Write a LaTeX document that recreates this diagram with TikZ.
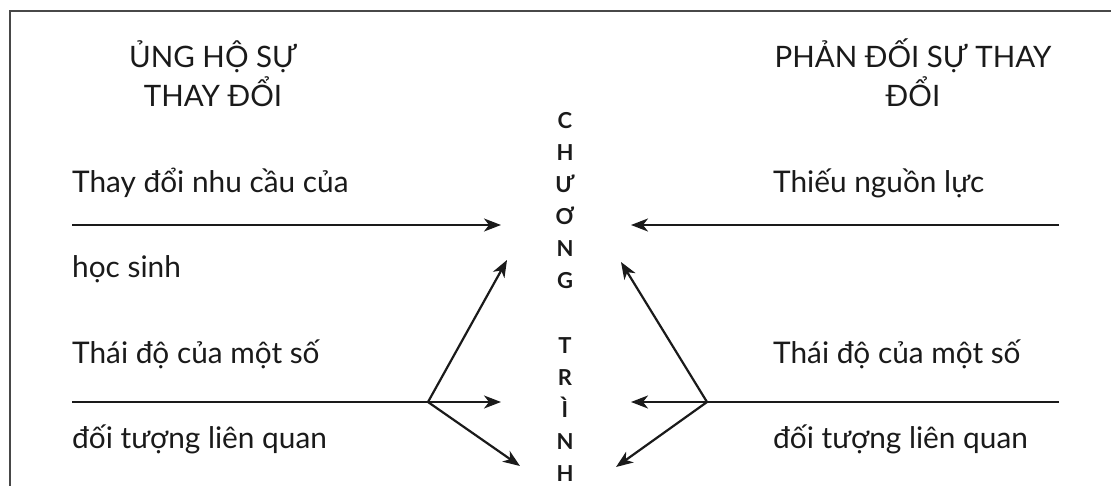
\documentclass[tikz,border=0pt]{standalone}
\usepackage{fontspec}
\setmainfont{Lato}
\usetikzlibrary{arrows.meta}
\definecolor{ink}{HTML}{1A1A1A}
\begin{document}
\begin{tikzpicture}[x=1pt,y=-1pt,
  lbl/.style={inner sep=0pt,anchor=base west,text=ink,font=\fontsize{29.8}{34}\selectfont},
  head/.style={inner sep=0pt,anchor=base,text=ink,font=\fontsize{29.5}{34}\selectfont},
  letter/.style={inner sep=0pt,anchor=base,text=ink,font=\bfseries\fontsize{22}{24}\selectfont},
  conn/.style={draw=ink,line width=2.2pt,-{Stealth[length=17pt,width=13pt,inset=5pt]}},
  plain/.style={draw=ink,line width=2.2pt},
  frame/.style={draw=ink!80,line width=1.5pt}]
\useasboundingbox (0,0) rectangle (1111,486);
% frame
\coordinate (fA) at (10,486);
\coordinate (fB) at (10,11);
\coordinate (fC) at (1111,11);
\draw[frame] (fA) -- (fB) -- (fC);
% headers
\node[head] (h1a) at (213,68) {ỦNG HỘ SỰ};
\node[head] (h1b) at (213,107) {THAY ĐỔI};
\node[head] (h2a) at (913,68) {PHẢN ĐỐI SỰ THAY};
\node[head] (h2b) at (913,107) {ĐỔI};
% left labels
\node[lbl] (l1) at (72,193) {Thay đổi nhu cầu của};
\node[lbl] (l2) at (72,278) {học sinh};
\node[lbl] (l3) at (72,363) {Thái độ của một số};
\node[lbl] (l4) at (72,448) {đối tượng liên quan};
% right labels
\node[lbl] (r1) at (773,193) {Thiếu nguồn lực};
\node[lbl] (r3) at (773,363) {Thái độ của một số};
\node[lbl] (r4) at (773,448) {đối tượng liên quan};
% center column
\foreach \t/\y/\n in {C/129/c1,H/161/c2,Ư/193/c3,Ơ/225/c4,N/257/c5,G/289/c6,T/353/c7,R/385/c8,Ì/417/c9,N/449/c10,H/481/c11}
  \node[letter] (\n) at (565,\y) {\t};
% connector coordinates
\coordinate (L1s) at (72,225);
\coordinate (L1e) at (501,225);
\coordinate (R1s) at (1059,225);
\coordinate (R1e) at (631,225);
\coordinate (L2s) at (72,402);
\coordinate (LB) at (428,402);
\coordinate (L2e) at (501,402);
\coordinate (LUe) at (507,260);
\coordinate (LDe) at (520,466);
\coordinate (R2s) at (1059,402);
\coordinate (RB) at (707,402);
\coordinate (R2e) at (631,402);
\coordinate (RUe) at (621,262);
\coordinate (RDe) at (616,467);
% connectors
\draw[conn] (L1s) -- (L1e);
\draw[conn] (R1s) -- (R1e);
\draw[plain] (L2s) -- (LB);
\draw[conn] (LB) -- (L2e);
\draw[conn] (LB) -- (LUe);
\draw[conn] (LB) -- (LDe);
\draw[plain] (R2s) -- (RB);
\draw[conn] (RB) -- (R2e);
\draw[conn] (RB) -- (RUe);
\draw[conn] (RB) -- (RDe);
\end{tikzpicture}
\end{document}
